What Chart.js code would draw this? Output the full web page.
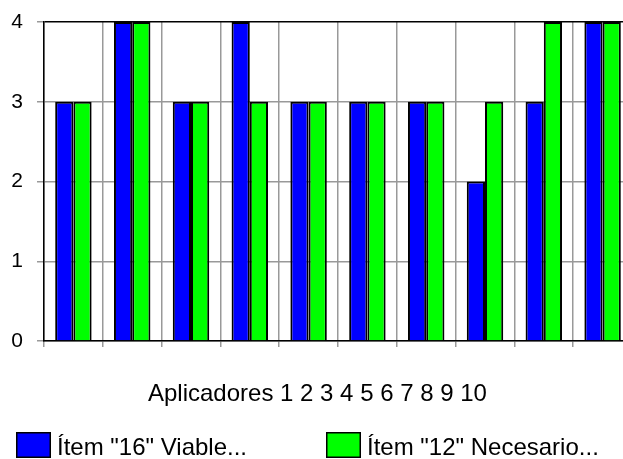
<!DOCTYPE html>
<html>
<head>
<meta charset="utf-8">
<script src="https://cdn.jsdelivr.net/npm/chart.js@4"></script>
<style>
  html, body { margin: 0; padding: 0; overflow: hidden; background: #fff; }
  #wrap { width: 623px; height: 459px; overflow: hidden; position: relative; }
</style>
</head>
<body>
<div id="wrap"><canvas id="chart" width="632" height="459" style="width:632px;height:459px"></canvas></div>
<script>
// Values
const aplicadores = ['1', '2', '3', '4', '5', '6', '7', '8', '9', '10'];
const item16 = [3, 4, 3, 4, 3, 3, 3, 2, 3, 4];
const item12 = [3, 4, 3, 3, 3, 3, 3, 3, 4, 4];
const yTicks = [0, 1, 2, 3, 4];
const axisTitle = 'Aplicadores 1 2 3 4 5 6 7 8 9 10';
const seriesNames = ['Ítem "16" Viable...', 'Ítem "12" Necesario...'];

const FONT = '"Liberation Sans", Arial, sans-serif';

// draws the axis title and the legend under the plot
const bottomText = {
    id: 'bottomText',
    afterDraw(chart) {
        const ctx = chart.ctx;
        ctx.save();
        ctx.fillStyle = '#000';
        ctx.textBaseline = 'alphabetic';
        ctx.textAlign = 'left';
        ctx.font = '24px ' + FONT;
        ctx.fillText(axisTitle, 148, 401);

        const legendX = [16, 326];
        chart.data.datasets.forEach((ds, i) => {
            const x = legendX[i];
            ctx.fillStyle = ds.backgroundColor;
            ctx.fillRect(x, 432, 35, 26);
            ctx.strokeStyle = '#000';
            ctx.lineWidth = 1.5;
            ctx.strokeRect(x + 0.75, 432.75, 33.5, 24.5);
            ctx.fillStyle = '#000';
            ctx.fillText(ds.label, x + 41, 455);
        });
        ctx.restore();
    }
};

new Chart(document.getElementById('chart'), {
    type: 'bar',
    data: {
        labels: aplicadores,
        datasets: [
            {
                label: seriesNames[0],
                data: item16,
                backgroundColor: '#0000ff',
                borderColor: '#000',
                borderWidth: 2
            },
            {
                label: seriesNames[1],
                data: item12,
                backgroundColor: '#00ff00',
                borderColor: '#000',
                borderWidth: 2
            }
        ]
    },
    options: {
        responsive: false,
        animation: false,
        devicePixelRatio: 1,
        layout: { padding: { top: 22, bottom: 112, left: 0, right: 0 } },
        datasets: { bar: { categoryPercentage: 0.62, barPercentage: 1 } },
        plugins: {
            legend: { display: false },
            tooltip: { enabled: false }
        },
        scales: {
            x: {
                grid: {
                    offset: true,
                    color: '#999',
                    tickColor: '#999',
                    tickLength: 6,
                    lineWidth: 1.5
                },
                border: { color: '#000', width: 1.5 },
                ticks: { display: false },
                afterFit: scale => { scale.height = 6; }
            },
            y: {
                min: 0,
                max: 4,
                afterBuildTicks: scale => {
                    scale.ticks = yTicks.map(v => ({ value: v }));
                },
                grid: {
                    color: ctx => (ctx.tick && ctx.tick.value === 4) ? '#000' : '#999',
                    tickColor: '#999',
                    tickLength: 7,
                    lineWidth: 1.5
                },
                border: { color: '#000', width: 1.5 },
                ticks: {
                    padding: 14,
                    color: '#000',
                    font: { family: FONT, size: 21, lineHeight: 1 }
                },
                afterFit: scale => {
                    scale.width = 44;
                    scale.paddingTop = 0;
                    scale.paddingBottom = 0;
                }
            }
        }
    },
    plugins: [bottomText]
});
</script>
</body>
</html>
